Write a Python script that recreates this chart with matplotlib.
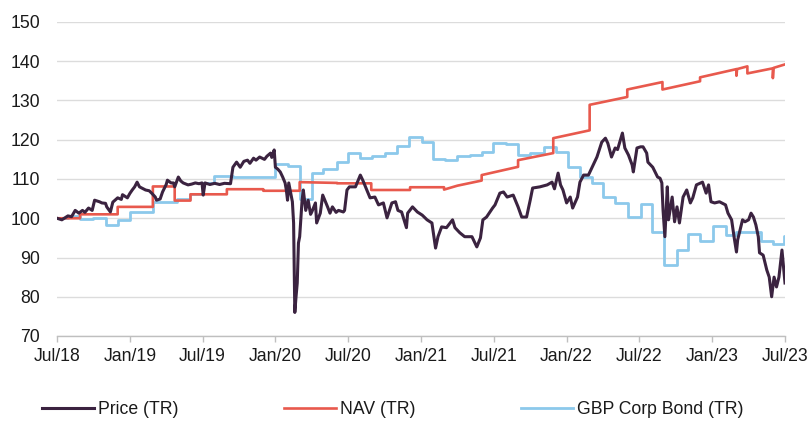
import matplotlib
matplotlib.use("Agg")
import matplotlib.pyplot as plt
import numpy as np

plt.rcParams['font.family'] = ['Liberation Sans', 'DejaVu Sans']

# x values are months since July 2018
tick_labels = ['Jul/18', 'Jan/19', 'Jul/19', 'Jan/20', 'Jul/20', 'Jan/21',
               'Jul/21', 'Jan/22', 'Jul/22', 'Jan/23', 'Jul/23']
tick_months = [0, 6, 12, 18, 24, 30, 36, 42, 48, 54, 60]

price_m = [0.0, 0.4, 0.9, 1.2, 1.5, 1.8, 2.1, 2.3, 2.6, 2.9, 3.1, 3.5, 3.7, 4.0, 4.1, 4.4, 4.6,
           5.0, 5.3, 5.4, 5.8, 6.0, 6.2, 6.4, 6.6, 6.8, 7.3, 7.6, 7.8, 8.1, 8.2, 8.5, 8.7, 9.0,
           9.1, 9.4, 9.6, 9.7, 10.0, 10.2, 10.4, 10.8, 11.1, 11.4, 11.7, 11.95, 12.05, 12.2, 12.6,
           13.0, 13.4, 13.8, 14.3, 14.5, 14.8, 15.1, 15.4, 15.7, 15.9, 16.2, 16.4, 16.7, 17.1,
           17.3, 17.6, 17.7, 17.9, 18.0, 18.2, 18.4, 18.6, 18.8, 18.9, 19.0, 19.1, 19.4, 19.5,
           19.6, 19.7, 19.8, 19.9, 20.0, 20.2, 20.3, 20.5, 20.7, 20.9, 21.0, 21.3, 21.4, 21.7,
           21.9, 22.3, 22.5, 22.7, 23.0, 23.2, 23.6, 23.7, 23.9, 24.1, 24.6, 24.8, 25.0, 25.2,
           25.6, 25.8, 26.2, 26.5, 26.9, 27.2, 27.6, 27.9, 28.1, 28.4, 28.8, 28.9, 29.3, 29.7,
           30.1, 30.5, 30.9, 31.2, 31.4, 31.7, 32.1, 32.6, 32.8, 33.2, 33.6, 34.2, 34.6, 34.9,
           35.1, 35.4, 35.9, 36.1, 36.5, 36.8, 37.1, 37.6, 38.0, 38.3, 38.7, 39.0, 39.2, 39.8,
           40.4, 40.8, 41.0, 41.3, 41.5, 41.7, 42.0, 42.3, 42.5, 42.9, 43.1, 43.4, 43.8, 44.1,
           44.5, 44.9, 45.2, 45.4, 45.7, 46.0, 46.2, 46.6, 46.8, 47.1, 47.4, 47.5, 47.8, 48.1,
           48.3, 48.6, 48.7, 49.1, 49.5, 49.7, 49.85, 49.95, 50.1, 50.3, 50.4, 50.7, 50.9, 51.1,
           51.3, 51.6, 51.9, 52.2, 52.4, 52.7, 53.2, 53.5, 53.7, 53.9, 54.2, 54.6, 55.1, 55.3,
           55.6, 55.8, 56.0, 56.1, 56.5, 56.7, 57.0, 57.2, 57.4, 57.6, 57.8, 57.9, 58.2, 58.5,
           58.7, 58.9, 59.1, 59.3, 59.5, 59.75, 59.85, 60.0]
price_v = [100.0, 99.6, 100.6, 100.4, 102.0, 101.3, 102.0, 101.5, 102.6, 102.0, 104.6, 104.2,
           103.9, 103.8, 102.9, 101.6, 104.1, 105.2, 104.8, 106.0, 105.2, 106.3, 107.2, 108.0,
           109.2, 108.0, 107.2, 107.0, 106.4, 105.4, 104.6, 104.9, 106.7, 108.6, 109.7, 109.0,
           109.0, 108.0, 110.5, 109.5, 109.0, 108.5, 108.7, 109.0, 108.8, 109.0, 105.9, 109.0,
           108.6, 108.9, 108.6, 108.9, 108.8, 113.0, 114.3, 113.0, 114.5, 114.8, 114.0, 115.3,
           114.8, 115.6, 115.0, 115.8, 116.6, 115.5, 117.4, 113.0, 112.5, 111.8, 110.5, 109.0,
           107.2, 104.6, 109.0, 104.2, 98.8, 76.0, 80.0, 83.5, 93.7, 95.3, 104.6, 107.2, 102.0,
           104.6, 101.0, 101.6, 103.9, 98.8, 101.3, 105.9, 102.9, 101.3, 102.9, 101.5, 102.0,
           101.6, 102.0, 107.2, 108.0, 108.0, 109.5, 111.0, 109.7, 106.7, 105.2, 105.4, 103.4,
           103.9, 100.1, 103.9, 104.2, 102.0, 101.6, 97.6, 101.3, 102.9, 101.6, 100.8, 99.6,
           98.8, 92.4, 95.3, 97.8, 97.6, 99.6, 97.6, 96.3, 95.3, 95.3, 92.7, 95.0, 99.6, 100.3,
           102.6, 103.4, 106.4, 106.7, 105.4, 105.9, 102.9, 100.3, 100.3, 104.6, 107.7, 108.0,
           108.5, 109.2, 107.5, 111.5, 108.5, 107.2, 103.9, 105.4, 102.6, 105.4, 109.2, 111.0,
           111.0, 113.0, 115.6, 119.4, 120.4, 119.1, 115.6, 117.9, 117.5, 121.7, 117.9, 116.1,
           113.6, 111.8, 117.9, 118.2, 118.2, 116.6, 114.3, 113.0, 110.5, 110.2, 109.0, 102.0,
           95.3, 108.0, 99.6, 105.4, 99.1, 102.9, 98.8, 105.4, 107.2, 103.9, 105.2, 108.5,
           109.2, 106.4, 108.5, 104.2, 103.9, 104.2, 103.4, 101.3, 99.6, 95.3, 91.4, 94.5, 99.6,
           99.1, 99.6, 101.3, 100.3, 98.3, 95.3, 91.2, 90.6, 86.8, 85.0, 80.0, 85.0, 82.5, 85.0,
           91.9, 88.6, 83.5]

nav_m = [0.0, 1.9, 1.9, 5.0, 5.0, 7.9, 7.9, 9.7, 9.7, 11.0, 11.0, 14.0, 14.0, 17.0, 17.0,
         20.0, 20.0, 23.1, 23.1, 25.9, 25.9, 29.1, 29.1, 31.9, 31.9, 33.0, 35.0, 35.0, 38.0,
         38.0, 40.9, 40.9, 43.9, 43.9, 47.0, 47.0, 49.9, 49.9, 53.0, 53.0, 56.0, 56.0, 56.05,
         56.9, 56.9, 59.0, 59.0, 59.05, 60.0]
nav_v = [100.0, 100.0, 101.0, 101.0, 102.9, 102.9, 108.1, 108.1, 104.5, 104.5, 106.1, 106.1,
         107.4, 107.4, 107.0, 107.0, 109.2, 109.0, 108.9, 108.9, 107.2, 107.2, 107.9, 107.9,
         107.3, 108.3, 109.6, 111.0, 113.1, 114.8, 116.6, 120.4, 122.4, 128.9, 130.9, 132.8,
         134.7, 132.8, 134.9, 135.9, 138.0, 136.3, 138.0, 138.7, 136.9, 138.2, 135.7, 138.3,
         139.2]

bond_m = [0.0, 0.9, 1.9, 3.0, 4.0, 5.0, 6.0, 7.9, 9.9, 11.0, 12.0, 12.9, 14.5, 15.7, 18.0,
          19.0, 20.0, 21.0, 21.9, 23.1, 24.0, 25.0, 26.0, 27.0, 28.0, 29.0, 30.1, 31.0, 32.0,
          33.0, 34.0, 35.0, 35.9, 37.0, 38.0, 39.0, 40.1, 41.1, 42.1, 43.1, 44.1, 45.0, 46.0,
          47.1, 48.1, 49.0, 50.0, 51.1, 52.0, 53.0, 54.1, 55.1, 56.0, 57.0, 58.0, 59.0, 59.9,
          60.0]
bond_v = [100.0, 100.7, 99.7, 100.0, 98.3, 99.6, 101.6, 104.2, 104.8, 106.3, 109.0, 110.8,
          110.6, 110.4, 113.8, 113.2, 104.8, 111.6, 112.5, 114.4, 116.6, 115.4, 115.8, 116.5,
          118.5, 120.6, 119.3, 115.2, 114.9, 115.8, 116.1, 117.0, 119.2, 119.0, 116.0, 116.7,
          118.1, 116.8, 113.0, 110.4, 108.9, 105.5, 103.8, 100.3, 103.6, 96.6, 88.2, 92.0,
          96.0, 94.1, 98.0, 95.7, 96.4, 96.6, 94.3, 93.4, 95.4, 95.4]

c_price = '#3b2340'
c_nav = '#e8594d'
c_bond = '#8cc9eb'

fig = plt.figure(figsize=(8.11, 4.21), dpi=100)
ax = fig.add_axes([57 / 811, 1 - 336 / 421, (785 - 57) / 811, (336 - 22) / 421])

ax.plot(bond_m, bond_v, color=c_bond, lw=2.0, drawstyle='steps-post', label='GBP Corp Bond (TR)', zorder=3)
ax.plot(nav_m, nav_v, color=c_nav, lw=1.9, label='NAV (TR)', zorder=4)
ax.plot(price_m, price_v, color=c_price, lw=2.2, label='Price (TR)', zorder=5)

ax.set_xlim(0, 60)
ax.set_ylim(70, 150)
ax.set_yticks(range(70, 151, 10))
ax.set_xticks(tick_months)
ax.set_xticklabels(tick_labels)

ax.grid(axis='y', color='#dcdcdc', lw=1.0)
ax.set_axisbelow(True)
for s in ['top', 'right', 'left']:
    ax.spines[s].set_visible(False)
ax.spines['bottom'].set_color('#bfbfbf')
ax.spines['bottom'].set_linewidth(1.0)
ax.spines['bottom'].set_zorder(2)

ax.tick_params(axis='y', length=0, pad=12, labelsize=12.7, labelcolor='#1a1a1a')
ax.tick_params(axis='x', length=4, width=1.0, color='#bfbfbf', pad=4.5, labelsize=12.7,
               labelcolor='#1a1a1a')

handles, labels = ax.get_legend_handles_labels()
order = [2, 1, 0]
fig.legend([handles[i] for i in order], [labels[i] for i in order],
           loc='center left', bbox_to_anchor=(41.7 / 811, 1 - 410 / 421), ncol=3,
           frameon=False, fontsize=12.7, handlelength=2.95, handletextpad=0.22,
           columnspacing=6.0, borderaxespad=0, borderpad=0, labelcolor='#1a1a1a')

fig.savefig('out.png', dpi=100)
